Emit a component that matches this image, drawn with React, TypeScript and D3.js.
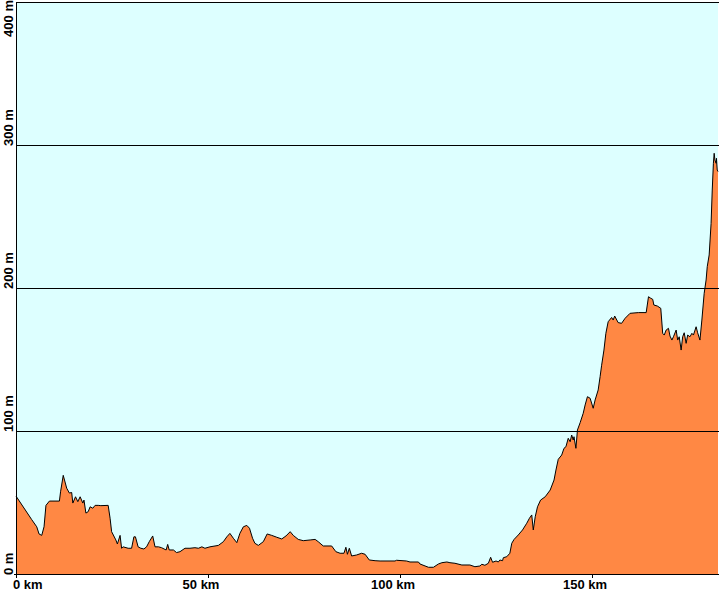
import React from "react";
import * as d3 from "d3";

const distanceKm = [
  0, 4.1, 5.4, 6.0, 6.7, 7.3, 7.8, 8.7, 11.3, 11.6, 12.3, 13.2, 13.9, 14.5, 14.8, 15.5, 16.1, 16.7, 17.4, 17.7,
  18.2, 18.8, 19.3, 20.0, 20.6, 21.4, 22.1, 24.0, 24.5, 24.9, 26.0, 26.4, 27.1, 27.5, 27.9, 29.2, 30.1, 30.7, 31.1, 31.8,
  32.5, 33.3, 34.0, 34.7, 35.6, 36.2, 37.1, 37.9, 39.1, 39.5, 39.9, 41.0, 41.8, 42.7, 44.0, 45.3, 46.6, 47.5, 48.4, 49.2,
  50.5, 52.7, 54.0, 54.9, 55.7, 56.6, 57.5, 58.3, 59.2, 60.1, 60.8, 61.6, 62.2, 63.1, 64.4, 65.4, 66.6, 67.9, 69.2, 70.3,
  71.4, 72.2, 73.5, 74.8, 76.6, 77.9, 78.7, 80.0, 82.2, 83.3, 84.4, 85.4, 85.9, 86.3, 86.8, 87.4, 88.7, 90.0, 90.9, 92.0,
  93.5, 94.8, 98.7, 99.1, 101.7, 102.6, 104.8, 105.2, 107.4, 108.7, 110.0, 110.9, 112.2, 113.0, 114.3, 116.1, 118.2, 119.5, 120.8, 121.3,
  122.1, 123.0, 123.6, 124.1, 125.0, 125.6, 126.0, 126.7, 126.9, 127.8, 128.6, 129.1, 129.7, 130.8, 131.9, 133.0, 133.7, 134.3, 134.7, 135.2,
  135.8, 136.6, 137.8, 139.1, 140.1, 140.6, 141.2, 142.1, 142.7, 143.2, 143.8, 144.3, 144.7, 145.1, 145.3, 145.8, 146.2, 146.9, 147.7, 148.2,
  148.8, 149.5, 150.3, 150.8, 151.6, 152.1, 152.5, 153.1, 153.6, 154.2, 155.1, 155.5, 155.9, 156.8, 157.7, 158.6, 159.9, 162.1, 164.1, 164.7,
  165.3, 165.8, 166.1, 167.0, 167.9, 168.4, 168.8, 169.3, 169.9, 170.3, 170.8, 171.2, 171.9, 172.3, 172.7, 173.2, 173.6, 174.0, 174.5, 174.9,
  175.5, 176.0, 176.4, 177.1, 177.5, 178.1, 178.6, 179.2, 179.7, 180.0, 180.5, 181.0, 181.3, 181.6, 181.8, 182.0, 182.3, 182.4, 182.6, 182.8,
];

const elevationM = [
  54.5, 38, 33, 28, 27, 33, 48, 51, 51, 57.5, 69, 60, 56.6, 57, 49.6, 54, 50.6, 54, 49.6, 51.7,
  42.6, 43.6, 47, 46, 48, 48, 47.8, 48, 39, 29.6, 23.8, 21, 27, 18, 19, 18, 18, 26, 26, 19,
  18, 17.5, 19, 22.6, 26.6, 19, 19, 18.4, 16.8, 20.7, 16.8, 16.8, 15, 15.6, 18, 18, 18.4, 18, 19, 18,
  19, 20, 22.6, 26, 28.4, 25, 21.9, 28.4, 33, 34, 32, 25, 21.5, 20, 22.6, 28, 27, 25.7, 24.5, 26.6,
  29.6, 27, 24.2, 23.3, 23.8, 24.2, 22.6, 19.6, 19.6, 15.6, 14.5, 14.5, 18.7, 13.8, 18, 12.6, 13.3, 14.5, 13.8, 9.8,
  9.3, 9.1, 9.1, 9.6, 9.1, 8.4, 8.4, 7, 4.7, 4.7, 7, 7.9, 8.4, 7.9, 7.5, 6.3, 6.3, 5.1, 5.6, 6.8,
  6.1, 7.5, 11.7, 8.2, 9.1, 8.4, 9.8, 9.3, 11.4, 12.1, 14.5, 21.5, 24.2, 27.3, 30.8, 35.5, 39, 41.3, 30.8, 40,
  47, 51.7, 54, 58.7, 65.7, 72.7, 80.2, 83.2, 87.9, 89, 94.9, 92.5, 97.2, 93.7, 96, 87.9, 100.7, 105.8, 112.4, 118.2,
  124, 122.9, 115.9, 121.7, 128.7, 138, 146, 156.6, 168.3, 176.4, 179.4, 177.6, 180.4, 175.8, 175.3, 178.8, 182.3, 182.8, 182.8, 193.9,
  192.8, 192.1, 188.1, 187.4, 185.8, 168.3, 167.1, 170.6, 171.8, 166.4, 163.6, 165.9, 170.6, 163.6, 165.9, 156.6, 165.9, 168.7, 161.3, 167.1,
  165.9, 168.3, 167.1, 172.9, 168.7, 163.6, 177.6, 196.3, 205.6, 214.9, 223.1, 245.2, 268.5, 287.2, 294.2, 289.5, 287.2, 290.7, 282.5, 281.4,
];

const yTicks = [0, 100, 200, 300, 400];
const xTicks = [0, 50, 100, 150];
const yTickLabels = ["0 m", "100 m", "200 m", "300 m", "400 m"];
const xTickLabels = ["0 km", "50 km", "100 km", "150 km"];

export default function App() {
  const W = 720;
  const H = 591;
  const left = 16;
  const right = 718;
  const top = 2;
  const bottom = 574;
  const x = d3.scaleLinear().domain([0, 182.8]).range([left, right]);
  const y = d3.scaleLinear().domain([0, 400]).range([bottom, top]);
  const data = distanceKm.map((d, i) => ({ d, e: elevationM[i] }));
  const area = d3
    .area<{ d: number; e: number }>()
    .x((p) => x(p.d))
    .y0(y(0))
    .y1((p) => y(p.e));
  const line = d3
    .line<{ d: number; e: number }>()
    .x((p) => x(p.d))
    .y((p) => y(p.e));
  const font = "'Liberation Sans', Arial, sans-serif";
  return (
    <svg
      width={W}
      height={H}
      style={{ position: "absolute", left: 0, top: 0, background: "#ffffff" }}
    >
      <rect x={left} y={top} width={right - left} height={bottom - top} fill="#DDFFFF" />
      <path d={area(data) || ""} fill="#FF8844" />
      <path d={line(data) || ""} fill="none" stroke="#000" strokeWidth={1} />
      {yTicks.slice(1, 4).map((t) => (
        <line key={t} x1={left} x2={right + 1} y1={Math.round(y(t)) + 0.5} y2={Math.round(y(t)) + 0.5} stroke="#000" />
      ))}
      <line x1={left + 0.5} x2={left + 0.5} y1={top} y2={bottom + 1} stroke="#000" />
      <line x1={left} x2={right + 1} y1={top + 0.5} y2={top + 0.5} stroke="#000" />
      <line x1={left - 2} x2={right + 1} y1={bottom + 0.5} y2={bottom + 0.5} stroke="#000" />
      {xTicks.map((t) => (
        <line key={t} x1={Math.round(x(t)) + 0.5} x2={Math.round(x(t)) + 0.5} y1={bottom} y2={bottom + 4} stroke="#000" />
      ))}
      {xTicks.map((t, i) => (
        <text
          key={t}
          x={i === 0 ? 13 : x(t) - 7}
          y={589}
          textAnchor={i === 0 ? "start" : "middle"}
          fontFamily={font}
          fontWeight="bold"
          fontSize={13}
          fill="#000"
        >
          {xTickLabels[i]}
        </text>
      ))}
      {yTicks.map((t, i) => {
        const last = i === yTicks.length - 1;
        const py = last ? 0 : y(t) + 1;
        return (
          <text
            key={t}
            transform={`translate(13,${py}) rotate(-90)`}
            textAnchor={last ? "end" : "start"}
            fontFamily={font}
            fontWeight="bold"
            fontSize={13}
            fill="#000"
          >
            {yTickLabels[i]}
          </text>
        );
      })}
    </svg>
  );
}
